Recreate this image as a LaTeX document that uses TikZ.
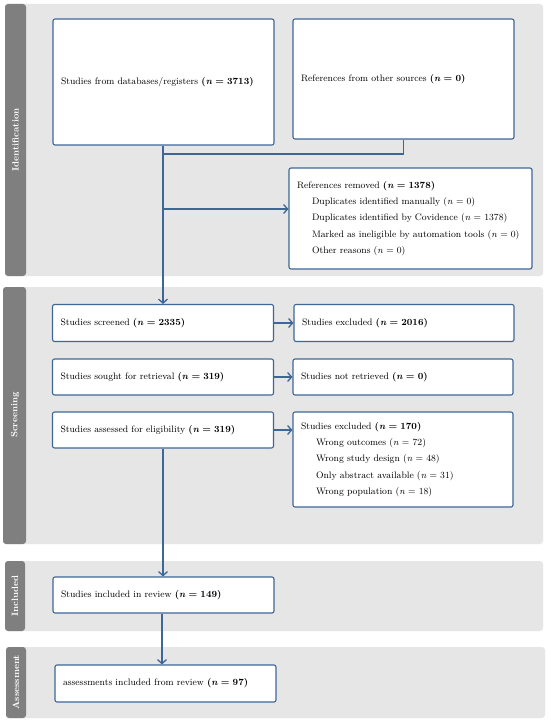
\documentclass[tikz,border=0pt]{standalone}
\usetikzlibrary{arrows.meta}
\definecolor{boxblue}{RGB}{62,102,150}
\definecolor{panelgray}{RGB}{230,230,230}
\definecolor{bargray}{RGB}{127,127,127}
\newcommand{\nb}[1]{\textbf{(\textit{n} = #1)}}
\newcommand{\nn}[1]{(\textit{n} = #1)}
\newcommand{\ind}{\hspace*{15pt}}
\begin{document}
\begin{tikzpicture}[x=1pt,y=-1pt,
  box/.style={draw=boxblue,line width=1.1pt,fill=white,rounded corners=2pt,inner xsep=8pt,inner ysep=0pt,align=left,font=\fontsize{9.4}{16.4}\selectfont,anchor=center},
  flow/.style={draw=boxblue,line width=1.3pt},
  arr/.style={flow,-{Straight Barb[length=4pt,width=9pt]}},
  panel/.style={fill=panelgray,rounded corners=3pt},
  bar/.style={fill=bargray,rounded corners=3pt},
  barlabel/.style={rotate=90,text=white,font=\bfseries\fontsize{9.2}{10}\selectfont}]
\useasboundingbox (0,0) rectangle (550,722);
\fill[white] (0,0) rectangle (550,722);
% panels
\fill[panel] (5,4) rectangle (543,276);
\fill[bar] (5,4) rectangle (26,276);
\fill[panel] (3,287) rectangle (543,544);
\fill[bar] (3,287) rectangle (26,544);
\fill[panel] (5,561) rectangle (543,631);
\fill[bar] (5,561) rectangle (25,631);
\fill[panel] (6,647) rectangle (545,718);
\fill[bar] (6,647) rectangle (26,718);
\node[barlabel] (lid) at (15.5,140) {Identification};
\node[barlabel] (lsc) at (15,415) {Screening};
\node[barlabel] (lin) at (15,596) {Included};
\node[barlabel] (las) at (16,682) {Assessment};
% boxes
\node[box,minimum width=221pt,minimum height=126pt,text width=205pt] (db) at (163.5,82) {Studies from databases/registers \nb{3713}};
\node[box,minimum width=221pt,minimum height=120pt,text width=205pt] (other) at (403.5,79) {References from other sources \nb{0}};
\node[box,minimum width=243pt,minimum height=101pt,text width=227pt] (removed) at (410.5,218.5) {References removed \nb{1378}\\
\ind Duplicates identified manually \nn{0}\\
\ind Duplicates identified by Covidence \nn{1378}\\
\ind Marked as ineligible by automation tools \nn{0}\\
\ind Other reasons \nn{0}};
\node[box,minimum width=221pt,minimum height=37pt,text width=205pt] (screened) at (163,323) {Studies screened \nb{2335}};
\node[box,minimum width=221pt,minimum height=36pt,text width=205pt] (sought) at (163,377) {Studies sought for retrieval \nb{319}};
\node[box,minimum width=221pt,minimum height=36pt,text width=205pt] (assessed) at (163,430) {Studies assessed for eligibility \nb{319}};
\node[box,minimum width=220pt,minimum height=37pt,text width=204pt] (excl1) at (404,323) {Studies excluded \nb{2016}};
\node[box,minimum width=220pt,minimum height=36pt,text width=204pt] (notret) at (403,377) {Studies not retrieved \nb{0}};
\node[box,minimum width=220pt,minimum height=95pt,text width=204pt] (excl2) at (403,459.5) {Studies excluded \nb{170}\\
\ind Wrong outcomes \nn{72}\\
\ind Wrong study design \nn{48}\\
\ind Only abstract available \nn{31}\\
\ind Wrong population \nn{18}};
\node[box,minimum width=221pt,minimum height=36pt,text width=205pt] (included) at (163.5,595) {Studies included in review \nb{149}};
\node[box,minimum width=221pt,minimum height=37pt,text width=205pt] (assess) at (165.5,683.5) {assessments included from review \nb{97}};
% connectors
\coordinate (join) at (163,154);
\coordinate (br) at (163,209);
\coordinate (xl) at (162,0);
\draw[flow] (other.south) |- (join);
\draw[arr] (db.south -| screened.north) -- (screened.north);
\draw[arr] (br) -- (br -| removed.west);
\draw[arr] (screened.east) -- (excl1.west);
\draw[arr] (sought.east) -- (notret.west);
\draw[arr] (assessed.east) -- (excl2.west |- assessed.east);
\draw[arr] (assessed.south) -- (included.north -| assessed.south);
\draw[arr] (included.south -| xl) -- (assess.north -| xl);
\end{tikzpicture}
\end{document}
